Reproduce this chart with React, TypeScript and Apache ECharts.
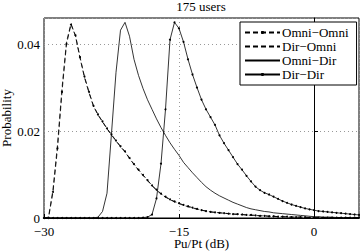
import React, { useEffect, useRef } from "react";
import * as echarts from "echarts";

const titleText = "175 users";
const xAxisName = "Pu/Pt (dB)";
const yAxisName = "Probability";
const seriesNames = ["Omni−Omni", "Dir−Omni", "Omni−Dir", "Dir−Dir"];

// x values in dB, step 0.5 from -30 to 5
const dbValues: number[] = [
  -30, -29.5, -29, -28.5, -28, -27.5, -27, -26.5, -26, -25.5,
  -25, -24.5, -24, -23.5, -23, -22.5, -22, -21.5, -21, -20.5,
  -20, -19.5, -19, -18.5, -18, -17.5, -17, -16.5, -16, -15.5,
  -15, -14.5, -14, -13.5, -13, -12.5, -12, -11.5, -11, -10.5,
  -10, -9.5, -9, -8.5, -8, -7.5, -7, -6.5, -6, -5.5,
  -5, -4.5, -4, -3.5, -3, -2.5, -2, -1.5, -1, -0.5,
  0, 0.5, 1, 1.5, 2, 2.5, 3, 3.5, 4, 4.5, 5,
];

const omniOmni: number[] = [
  0, 0.0, 0.006, 0.016, 0.029, 0.04, 0.0445, 0.042, 0.037, 0.0325,
  0.029, 0.0258, 0.0238, 0.0222, 0.0206, 0.0192, 0.0178, 0.0165, 0.0153, 0.0138,
  0.0124, 0.0111, 0.0099, 0.0087, 0.0075, 0.0065, 0.0056, 0.0049, 0.0043, 0.0038,
  0.0034, 0.003, 0.0027, 0.0024, 0.0021, 0.0018, 0.0016, 0.0014, 0.0013, 0.0012,
  0.0011, 0.001, 0.0009, 0.0009, 0.0008, 0.0007, 0.0007, 0.0006, 0.0005, 0.0005,
  0.0004, 0.0004, 0.0003, 0.0003, 0.0003, 0.0002, 0.0002, 0.0002, 0.0002, 0.0001,
  0.0001, 0.0001, 0.0001, 0.0001, 0.0001, 0.0001, 0.0001, 0.0001, 0.0001, 0.0001, 0.0001,
];

const dirOmni: number[] = [
  0, 0.0002, 0.0065, 0.0168, 0.0298, 0.0405, 0.0447, 0.0418, 0.0368, 0.0323,
  0.0288, 0.0257, 0.0237, 0.0221, 0.0205, 0.0191, 0.0177, 0.0164, 0.0152, 0.0137,
  0.0123, 0.011, 0.0098, 0.0086, 0.0074, 0.0064, 0.0055, 0.0048, 0.0042, 0.0037,
  0.0033, 0.0029, 0.0026, 0.0023, 0.002, 0.0018, 0.0016, 0.0014, 0.0013, 0.0012,
  0.0011, 0.001, 0.0009, 0.0008, 0.0008, 0.0007, 0.0006, 0.0006, 0.0005, 0.0005,
  0.0004, 0.0004, 0.0003, 0.0003, 0.0002, 0.0002, 0.0002, 0.0002, 0.0001, 0.0001,
  0.0001, 0.0001, 0.0001, 0.0001, 0.0001, 0.0001, 0.0001, 0.0001, 0.0001, 0.0001, 0.0001,
];

const omniDir: number[] = [
  0, 0, 0, 0, 0, 0, 0, 0, 0, 0,
  0, 0, 0.0002, 0.0015, 0.0057, 0.0195, 0.0335, 0.0432, 0.045, 0.0418,
  0.0365, 0.0328, 0.0298, 0.0272, 0.025, 0.0228, 0.0208, 0.019, 0.0173, 0.0158,
  0.0144, 0.0128, 0.0116, 0.0104, 0.0093, 0.0082, 0.0072, 0.0064, 0.0057, 0.0051,
  0.0046, 0.0041, 0.0036, 0.0032, 0.0028, 0.0024, 0.0021, 0.0019, 0.0017, 0.0015,
  0.0014, 0.0012, 0.0011, 0.001, 0.0009, 0.0008, 0.0007, 0.0006, 0.0005, 0.0004,
  0.0003, 0.0003, 0.0002, 0.0002, 0.0002, 0.0001, 0.0001, 0.0001, 0.0001, 0.0001, 0.0001,
];

const dirDir: number[] = [
  0, 0, 0, 0, 0, 0, 0, 0, 0, 0,
  0, 0, 0, 0, 0, 0, 0, 0, 0, 0,
  0, 0, 0.0001, 0.0002, 0.0008, 0.0045, 0.0125, 0.025, 0.041, 0.045,
  0.0436, 0.0405, 0.0365, 0.033, 0.03, 0.0272, 0.025, 0.0232, 0.0214, 0.019,
  0.0172, 0.0156, 0.014, 0.0124, 0.0111, 0.0097, 0.0084, 0.0072, 0.0064, 0.0058,
  0.0054, 0.0049, 0.0044, 0.0039, 0.0035, 0.0031, 0.0028, 0.0025, 0.0022, 0.002,
  0.0018, 0.0016, 0.0015, 0.0014, 0.0013, 0.0012, 0.0011, 0.001, 0.0009, 0.0008, 0.0007,
];

const FONT = "'Liberation Serif', 'Times New Roman', serif";

function pairs(ys: number[]) {
  return dbValues.map((x, i) => [x, ys[i]]);
}

export default function App() {
  const ref = useRef<HTMLDivElement>(null);
  useEffect(() => {
    if (!ref.current) return;
    const chart = echarts.init(ref.current, undefined, { renderer: "svg" });
    const txt = { fontFamily: FONT, fontSize: 13, color: "#000" };
    chart.setOption({
      animation: false,
      backgroundColor: "#fff",
      textStyle: { fontFamily: FONT },
      graphic: [
        {
          type: "text",
          x: 201,
          y: 0,
          style: {
            text: titleText,
            textAlign: "center",
            fontFamily: FONT,
            fontSize: 13,
            fill: "#000",
          },
        },
      ],
      grid: {
        left: 44,
        right: 3,
        top: 18,
        bottom: 33,
        containLabel: false,
        outerBoundsMode: "none",
        show: true,
        borderColor: "#000",
        borderWidth: 1,
        backgroundColor: "#fff",
      },
      legend: {
        orient: "vertical",
        left: 240,
        top: 22,
        data: [
          { name: seriesNames[0] },
          { name: seriesNames[1], itemStyle: { opacity: 0 } },
          { name: seriesNames[2], itemStyle: { opacity: 0 } },
          { name: seriesNames[3] },
        ],
        itemWidth: 35,
        itemHeight: 4,
        itemGap: 1,
        padding: [4, 8, 4, 4],
        borderColor: "#000",
        borderWidth: 1,
        borderRadius: 0,
        backgroundColor: "#fff",
        textStyle: { ...txt, padding: [0, 0, 0, -3] },
        inactiveColor: "#000",
      },
      xAxis: {
        type: "value",
        min: -30,
        max: 5,
        interval: 15,
        name: xAxisName,
        nameLocation: "middle",
        nameGap: 19,
        nameMoveOverlap: false,
        nameTextStyle: { ...txt, lineHeight: 12 },
        axisLine: { onZero: false, lineStyle: { color: "#000", width: 1 } },
        axisTick: { inside: true, length: 4, lineStyle: { color: "#000" } },
        axisLabel: {
          ...txt,
          margin: 8,
          lineHeight: 10,
          showMaxLabel: false,
          formatter: (v: number) => String(v).replace("-", "−"),
        },
        splitLine: {
          show: true,
          lineStyle: { color: "#999", type: [1, 3], width: 1 },
        },
      },
      yAxis: {
        type: "value",
        min: 0,
        max: 0.046,
        interval: 0.02,
        name: yAxisName,
        nameLocation: "middle",
        nameGap: 31,
        nameMoveOverlap: false,
        nameTextStyle: txt,
        axisLine: { show: true, lineStyle: { color: "#000", width: 1 } },
        axisTick: { show: true, inside: true, length: 4, lineStyle: { color: "#000" } },
        axisLabel: {
          ...txt,
          margin: 4,
          lineHeight: 9,
          showMaxLabel: false,
          formatter: (v: number) => (v === 0 ? "0" : v.toFixed(2)),
        },
        splitLine: {
          show: true,
          lineStyle: { color: "#999", type: [1, 3], width: 1 },
        },
      },
      series: [
        {
          name: seriesNames[0],
          type: "line",
          data: pairs(omniOmni),
          symbol: "circle",
          symbolSize: 2,
          showSymbol: true,
          itemStyle: { color: "#000" },
          lineStyle: { color: "#000", width: 0.8, type: [5, 3] },
          z: 4,
        },
        {
          name: seriesNames[1],
          type: "line",
          data: pairs(dirOmni),
          symbol: "none",
          itemStyle: { color: "#000" },
          lineStyle: { color: "#000", width: 0.8, type: [5, 3] },
          z: 3,
        },
        {
          name: seriesNames[2],
          type: "line",
          data: pairs(omniDir),
          symbol: "none",
          itemStyle: { color: "#000" },
          lineStyle: { color: "#000", width: 0.8 },
          z: 3,
        },
        {
          name: seriesNames[3],
          type: "line",
          data: pairs(dirDir),
          symbol: "circle",
          symbolSize: 2,
          showSymbol: true,
          itemStyle: { color: "#000" },
          lineStyle: { color: "#000", width: 0.8 },
          z: 4,
        },
      ],
    });
    return () => chart.dispose();
  }, []);
  return <div ref={ref} style={{ width: 362, height: 251, position: "absolute", left: 0, top: 0 }} />;
}
